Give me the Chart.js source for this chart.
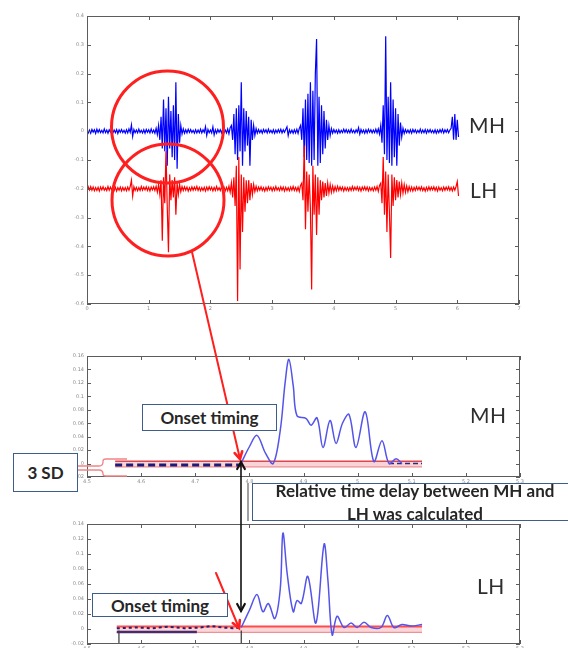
<!DOCTYPE html>
<html><head><meta charset="utf-8">
<script src="https://cdn.jsdelivr.net/npm/chart.js@4.4.1/dist/chart.umd.min.js"></script>
<style>
html,body{margin:0;padding:0;background:#fff;width:568px;height:650px;overflow:hidden;position:relative;}
canvas.ch{position:absolute;}
#ov{position:absolute;left:0;top:0;pointer-events:none;}
.box{position:absolute;background:#fff;border:1.5px solid #3f5d8c;box-sizing:border-box;color:#262626;font-weight:700;font-family:Lato,'Open Sans',sans-serif;font-size:17px;display:flex;align-items:center;justify-content:center;white-space:nowrap;}
.txt{position:absolute;color:#262626;font-weight:700;font-family:Lato,'Open Sans',sans-serif;font-size:17px;line-height:20px;text-align:center;white-space:nowrap;}
.lbl{position:absolute;font-family:Lato,'Open Sans',sans-serif;color:#2e2e2e;font-size:21px;letter-spacing:0.5px;line-height:1;white-space:nowrap;}
</style></head>
<body>
<canvas class="ch" id="c1" width="470" height="306" style="left:57px;top:8px"></canvas>
<canvas class="ch" id="c2" width="471" height="138" style="left:57px;top:348px"></canvas>
<canvas class="ch" id="c3" width="471" height="134" style="left:57px;top:516px"></canvas>
<canvas id="ov" width="568" height="650"></canvas>

<div class="lbl" style="left:469px;top:114px">MH</div>
<div class="lbl" style="left:470px;top:179px">LH</div>
<div class="lbl" style="left:470px;top:404px">MH</div>
<div class="lbl" style="left:477px;top:575px">LH</div>

<div class="box" style="left:142px;top:404px;width:135px;height:27px">Onset timing</div>
<div class="box" style="left:92px;top:593px;width:136px;height:24px">Onset timing</div>
<div class="box" style="left:13px;top:453px;width:65px;height:39px">3 SD</div>
<div style="position:absolute;left:247px;top:483px;width:1.5px;height:38px;background:#a0a0a0"></div>
<div class="box" style="left:252px;top:483px;width:340px;height:38px"></div>
<div class="txt" style="left:255px;width:320px;top:480.5px">Relative time delay between MH and</div>
<div class="txt" style="left:255px;width:320px;top:504px">LH was calculated</div>

<script>
// ---------------- DATA ----------------
// Top panel: raw EMG, one sample every 0.02 time units
const topXTickLabels = ['0','1','2','3','4','5','6','7'];
const sampleStep = 0.02;
const mhEmg = [
 0.5,-0.6,0.4,-0.7,0.6,-0.3,0.5,-0.8,0.7,-0.4,
 0.6,-0.5,0.3,-0.6,0.8,-0.5,0.4,-0.7,0.5,-0.3,
 0.7,-0.6,0.4,-0.5,0.6,-0.8,0.5,-0.4,0.6,-0.5,
 0.3,-0.7,0.5,-0.6,0.8,-0.4,2.2,-1.8,0.6,-0.5,
 0.4,-0.6,0.7,-0.5,0.3,-0.6,0.5,-0.7,0.6,-0.4,
 0.5,-0.6,0.8,-0.5,0.4,-0.7,1.0,-1.2,2,-3,
 5,-6,11,-7,8,-12,12,-6,7,-9,
 9,-10,17,-13,6,-4,2,-1,0.8,-0.7,
 0.5,-0.6,0.7,-0.4,0.6,-0.5,0.3,-0.7,0.5,-0.6,
 0.4,-0.5,0.7,-0.6,0.5,-0.4,1.6,-1.5,0.6,-0.5,
 0.4,-0.6,1.5,-1.3,0.5,-0.7,0.6,-0.4,0.5,-0.6,
 0.7,-0.5,0.4,-0.6,0.8,-0.9,1.2,2,-3,6,
 -8,8,-10,9,-7,17,-12,8,-7,7,
 -5,5,-12,4,-3,2,-1.5,0.9,-0.7,0.6,
 -0.5,0.4,-0.7,0.6,-0.4,0.5,-0.6,0.7,-0.5,0.3,
 -0.6,0.5,-0.7,0.4,-0.5,0.6,-0.4,0.7,-0.6,0.5,
 -0.4,0.6,1.5,-1.5,0.5,-0.6,0.4,-0.7,0.5,-0.6,
 0.7,-0.8,1.0,2,-3,8,-9,11,-10,13,
 -11,17,-12,14,-10,20,32,-12,12,-11,
 9,-8,7,-6,4,-3,2,-1.5,0.9,-0.7,
 0.6,-0.5,0.4,-0.7,0.5,-0.6,0.3,-0.5,0.7,-0.4,
 0.6,-0.5,0.4,-0.6,0.7,-0.5,0.3,-0.6,0.5,-0.4,
 1.2,-1.0,0.6,-0.5,0.4,-0.7,0.5,-0.6,0.7,-0.4,
 0.5,-0.6,0.4,-0.5,0.7,-0.6,0.8,-1.0,2,-4,
 9,-8,33,-10,12,-11,17,-12,11,-9,
 8,-12,6,-5,3,-2,1,-0.8,0.6,-0.5,
 0.4,-0.6,0.5,-0.7,0.6,-0.4,0.5,-0.6,0.3,-0.5,
 0.7,-0.6,0.4,-0.5,0.6,-0.7,0.5,-0.4,0.6,-0.5,
 0.3,-0.6,0.5,-0.7,0.4,-0.5,0.6,-0.4,0.7,-0.6,
 0.5,-0.4,0.6,-0.5,0.4,1,5,-3,6,-3,
 4,-2
];
const lhEmg = [
 -0.6,0.7,-0.4,0.8,-0.5,0.6,-0.7,0.4,-0.6,0.5,
 -0.8,0.6,-0.4,0.7,-0.5,0.3,-0.6,0.8,-0.5,0.6,
 -0.4,0.7,-0.6,0.5,-0.8,0.4,-0.5,0.6,-0.7,0.5,
 -0.6,0.4,-0.7,0.6,-0.5,0.8,3,-2.5,0.7,-0.6,
 0.5,-0.7,0.4,-0.6,0.8,-0.5,0.6,-0.4,0.7,-0.6,
 0.5,-0.8,0.6,-0.4,0.7,-0.6,0.9,-1.2,1.5,-2,
 3,-18,4,-5,13,-6,-22,5,-4,3,
 -3,4,-9,2,-2,1.5,-1,0.8,-0.6,0.7,
 -0.5,0.6,-0.8,0.4,-0.6,0.7,-0.5,0.6,-0.4,0.8,
 -0.6,0.5,-0.7,0.4,-0.6,0.5,-0.8,0.6,-0.5,0.7,
 -0.4,0.6,-0.7,0.5,-0.6,0.8,-0.5,0.4,-0.6,0.7,
 -0.5,0.6,-0.8,0.5,-0.7,0.9,-1.2,2,-3,4,
 -6,8,-39,11,-28,5,-15,4,-8,3,
 -5,3,-4,2,-2,1.5,-1,0.9,-0.7,0.6,
 -0.5,0.7,-0.6,0.4,-0.8,0.5,-0.6,0.7,-0.4,0.6,
 -0.7,0.5,-0.6,0.8,-0.5,0.4,-0.6,0.7,-0.5,0.6,
 -0.8,0.5,-0.6,0.4,-0.7,0.6,-0.5,0.8,-0.6,0.5,
 -0.7,0.6,-0.9,1.2,2,-4,15,-14,6,-8,
 5,-7,-35,8,-9,5,-16,4,-9,3,
 -4,2.5,-3,2,-2.5,2,-1.5,1.5,-1.2,1,
 -1,0.8,-0.7,0.9,-0.6,0.7,-0.5,0.6,-0.8,0.5,
 -0.6,0.4,-0.7,0.5,-0.6,0.8,-0.5,0.6,-0.4,0.7,
 -0.6,0.5,-0.8,0.6,-0.4,0.7,-0.5,0.6,-0.7,0.5,
 -0.6,0.4,-0.7,0.6,-0.5,0.8,-0.9,1.2,2,-5,
 11,-9,6,-15,5,-8,-24,5,-6,4,
 -4,3,-3,2.5,-2,2,-1.5,1.5,-1.2,1,
 -1,0.8,-0.7,0.6,-0.8,0.5,-0.6,0.7,-0.4,0.6,
 -0.5,0.7,-0.6,0.4,-0.8,0.5,-0.6,0.7,-0.5,0.6,
 -0.4,0.7,-0.6,0.5,-0.8,0.6,-0.5,0.4,-0.7,0.6,
 -0.5,0.6,-0.4,0.7,-0.6,0.5,-0.7,0.6,-0.5,0.8,
 2.5,-2.5
];
const lhOffset = -20;

// Middle / bottom panels: linear envelopes
const envXTickLabels = ['4.5','4.6','4.7','4.8','4.9','5','5.1','5.2','5.3'];
const mhEnvX = [2.85,3.0,3.14,3.30,3.44,3.57,3.66,3.73,3.81,3.88,4.05,4.14,4.25,4.36,4.49,4.60,4.72,4.84,4.97,5.14,5.30,5.45,5.58,5.71,5.82];
const mhEnvY = [0.001,0.025,0.042,0.015,0.000,0.049,0.120,0.155,0.116,0.071,0.067,0.057,0.068,0.024,0.064,0.030,0.060,0.073,0.024,0.077,0.003,0.034,0.000,0.007,0.000];
const mhPreX = [0.52,2.85];
const mhPreY = [-0.002,-0.002];
const mhTailX = [5.58,6.19];
const mhTailY = [0.000,0.000];
const mhThrX = [0.52,6.19];
const mhThrHigh = [0.0035,0.0035];
const mhThrLow = [-0.005,-0.005];

const lhEnvX = [2.85,3.0,3.14,3.25,3.35,3.47,3.57,3.62,3.70,3.81,3.88,3.96,4.08,4.23,4.38,4.45,4.53,4.62,4.75,4.88,4.99,5.12,5.25,5.43,5.55,5.67,5.82,5.99,6.19];
const lhEnvY = [0.002,0.025,0.046,0.023,0.034,0.014,0.053,0.128,0.073,0.023,0.038,0.034,0.070,0.008,0.113,0.066,-0.008,0.017,0.002,0.008,0.002,0.009,0.002,0.002,0.018,0.002,0.006,0.004,0.006];
const lhPreX = [0.55,0.9,1.2,1.5,1.8,2.1,2.3,2.5,2.7,2.85];
const lhPreY = [0.001,0.002,0.001,0.003,0.001,0.002,0.004,0.002,0.001,0.002];
const lhPre2X = [0.55,2.03];
const lhPre2Y = [-0.004,-0.004];
const lhThrX = [0.55,6.19];
const lhThrHigh = [0.0035,0.0035];
const lhThrLow = [-0.0045,-0.0045];
const lhMarkX = [0.59,2.85];

// ---------------- HELPERS ----------------
const pts = (xs, ys) => xs.map((x, i) => ({x, y: ys[i]}));
const framePlugin = {
  id: 'frame',
  afterDraw(chart) {
    const {ctx, chartArea: a, scales} = chart;
    ctx.save();
    ctx.strokeStyle = '#5c5c5c';
    ctx.lineWidth = 1;
    ctx.strokeRect(a.left + 0.5, a.top + 0.5, a.right - a.left - 1, a.bottom - a.top - 1);
    ctx.beginPath();
    scales.x.ticks.forEach(t => {
      const x = Math.round(scales.x.getPixelForValue(t.value)) + 0.5;
      ctx.moveTo(x, a.top); ctx.lineTo(x, a.top + 4);
      ctx.moveTo(x, a.bottom); ctx.lineTo(x, a.bottom - 4);
    });
    scales.y.ticks.forEach(t => {
      const y = Math.round(scales.y.getPixelForValue(t.value)) + 0.5;
      ctx.moveTo(a.left, y); ctx.lineTo(a.left + 4, y);
      ctx.moveTo(a.right, y); ctx.lineTo(a.right - 4, y);
    });
    ctx.stroke();
    ctx.restore();
  }
};
function xScale(min, max, step, labels, h) {
  return {type: 'linear', min, max, afterFit(s) { s.height = h; },
    grid: {display: false, drawTicks: false}, border: {display: false},
    ticks: {stepSize: step, autoSkip: false, maxRotation: 0, padding: 2, color: '#8a8a8a',
      font: {size: 5, family: 'DejaVu Sans'}, callback: (v, i) => labels[i] ?? ''}};
}
function yScale(min, max, step, fmt) {
  return {type: 'linear', min, max, afterFit(s) { s.width = 30; },
    grid: {display: false, drawTicks: false}, border: {display: false},
    ticks: {stepSize: step, padding: 3, color: '#8a8a8a', font: {size: 5, family: 'DejaVu Sans'}, callback: fmt}};
}
const common = {
  responsive: false, animation: false, devicePixelRatio: 1,
  layout: {padding: {top: 8, right: 8, left: 0, bottom: 0}},
  plugins: {legend: {display: false}, tooltip: {enabled: false}},
  elements: {point: {radius: 0}}
};
const fmtNum = d => v => { const s = Number(v.toFixed(d)); return String(s); };

// ---------------- CHART 1 ----------------
const c1 = new Chart(document.getElementById('c1'), {
  type: 'line',
  data: {datasets: [
    {data: lhEmg.map((v, i) => ({x: i * sampleStep, y: v + lhOffset})), borderColor: '#ff0000', borderWidth: 1.2, tension: 0},
    {data: mhEmg.map((v, i) => ({x: i * sampleStep, y: v})), borderColor: '#0000ff', borderWidth: 1.2, tension: 0}
  ]},
  options: Object.assign({}, common, {scales: {
    x: xScale(0, 7, 1, topXTickLabels, 10),
    y: yScale(-60, 40, 10, v => String(Number((v / 100).toFixed(1))))
  }}),
  plugins: [framePlugin]
});

// ---------------- CHART 2 ----------------
const c2 = new Chart(document.getElementById('c2'), {
  type: 'line',
  data: {datasets: [
    {data: pts(mhEnvX, mhEnvY), borderColor: '#5454ea', borderWidth: 1.5, tension: 0.35},
    {data: pts(mhPreX, mhPreY), borderColor: '#1c1c78', borderWidth: 3, borderDash: [7, 4]},
    {data: pts(mhTailX, mhTailY), borderColor: '#2a2a80', borderWidth: 1.5, borderDash: [5, 3]},
    {data: pts(mhThrX, mhThrHigh), borderColor: '#e0474c', borderWidth: 1.5, fill: '+1', backgroundColor: 'rgba(242,160,165,0.45)'},
    {data: pts(mhThrX, mhThrLow), borderColor: '#ee8a8e', borderWidth: 1.2}
  ]},
  options: Object.assign({}, common, {scales: {
    x: xScale(0, 8, 1, envXTickLabels, 9),
    y: yScale(-0.02, 0.16, 0.02, fmtNum(2))
  }}),
  plugins: [framePlugin]
});

// ---------------- CHART 3 ----------------
const c3 = new Chart(document.getElementById('c3'), {
  type: 'line',
  data: {datasets: [
    {data: pts(lhEnvX, lhEnvY), borderColor: '#5454ea', borderWidth: 1.5, tension: 0.35},
    {data: pts(lhPreX, lhPreY), borderColor: '#2a1f6e', borderWidth: 2, borderDash: [3, 3]},
    {data: pts(lhPre2X, lhPre2Y), borderColor: '#4a2a6a', borderWidth: 2.5},
    {data: [{x: lhMarkX[0], y: -0.02}, {x: lhMarkX[0], y: -0.002}], borderColor: '#333', borderWidth: 1.2},
    {data: [{x: lhMarkX[1], y: -0.02}, {x: lhMarkX[1], y: -0.002}], borderColor: '#333', borderWidth: 1.2},
    {data: pts(lhThrX, lhThrHigh), borderColor: '#ff4b4b', borderWidth: 2, fill: '+1', backgroundColor: 'rgba(242,165,168,0.45)'},
    {data: pts(lhThrX, lhThrLow), borderColor: '#ee8a8e', borderWidth: 1.2}
  ]},
  options: Object.assign({}, common, {scales: {
    x: xScale(0, 8, 1, envXTickLabels, 4),
    y: yScale(-0.02, 0.14, 0.02, fmtNum(2))
  }}),
  plugins: [framePlugin]
});

// ---------------- ANNOTATIONS ----------------
const g = document.getElementById('ov').getContext('2d');
function chevron(x, y, ang, len, spread) {
  g.beginPath();
  g.moveTo(x + len * Math.cos(ang + Math.PI - spread), y + len * Math.sin(ang + Math.PI - spread));
  g.lineTo(x, y);
  g.lineTo(x + len * Math.cos(ang + Math.PI + spread), y + len * Math.sin(ang + Math.PI + spread));
  g.stroke();
}
function arrow(x1, y1, x2, y2, color, lw, both) {
  g.strokeStyle = color; g.lineWidth = lw; g.lineCap = 'round'; g.lineJoin = 'miter';
  g.beginPath(); g.moveTo(x1, y1); g.lineTo(x2, y2); g.stroke();
  const ang = Math.atan2(y2 - y1, x2 - x1);
  g.lineWidth = lw + 0.6;
  chevron(x2, y2, ang, 8, 0.5);
  if (both) chevron(x1, y1, ang + Math.PI, 8, 0.5);
}
// circles on top panel
g.strokeStyle = '#ff1f1f'; g.lineWidth = 3;
g.beginPath(); g.arc(167.5, 127, 56, 0, Math.PI * 2); g.stroke();
g.beginPath(); g.arc(168, 200, 56, 0, Math.PI * 2); g.stroke();
// red arrows
arrow(192, 252, 240, 459, '#ff1f1f', 2, false);
arrow(216, 573, 239, 628, '#ff1f1f', 2, false);
// black double arrow
arrow(241, 462, 241, 611, '#111', 1.6, true);
// 3 SD bracket
g.strokeStyle = '#ef8585'; g.lineWidth = 1.3; g.lineCap = 'butt';
g.beginPath();
g.moveTo(78, 466); g.lineTo(99, 466);
g.moveTo(78, 470); g.lineTo(99, 470);
g.moveTo(99, 466); g.quadraticCurveTo(103, 466, 103, 462); g.lineTo(103, 461); g.quadraticCurveTo(103, 459, 106, 459); g.lineTo(127, 459);
g.moveTo(99, 470); g.quadraticCurveTo(103, 470, 103, 474); g.quadraticCurveTo(103, 476, 106, 476); g.lineTo(127, 476);
g.stroke();
</script>
</body></html>
